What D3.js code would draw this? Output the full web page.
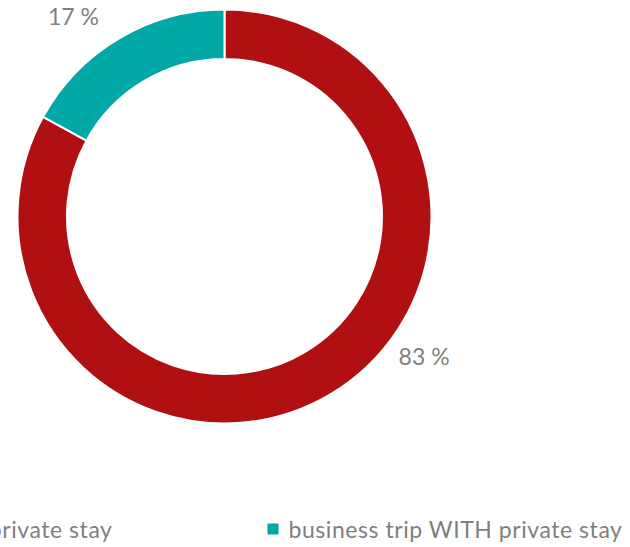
<!DOCTYPE html>
<html>
<head>
<meta charset="utf-8">
<script src="https://cdn.jsdelivr.net/npm/d3@7"></script>
<style>
  html, body { margin: 0; padding: 0; background: #fff; }
  svg { display: block; }
  text { font-family: Lato, "Open Sans", sans-serif; fill: #7f7f7f; }
</style>
</head>
<body>
<svg id="chart" width="630" height="547"></svg>
<script>
// Share of business trips with / without an added private stay
const categories = ["business trip WITHOUT private stay", "business trip WITH private stay"];
const shares = [83, 17];
const valueLabels = ["83 %", "17 %"];
const colors = ["#b11013", "#00a8a7"];

// where each value label sits: fraction along its slice, distance from centre
const labelFrac = [0.418, 0.395];
const labelRad = [243.4, 250.8];

const svg = d3.select("#chart");
const cx = 224.5, cy = 216.5;
const outerR = 207, innerR = 157.5;

const pie = d3.pie().sort(null).value(d => d)(shares);
const arc = d3.arc().innerRadius(innerR).outerRadius(outerR);

const g = svg.append("g").attr("transform", `translate(${cx},${cy})`);

g.selectAll("path.slice")
  .data(pie)
  .join("path")
  .attr("class", "slice")
  .attr("d", arc)
  .attr("fill", (d, i) => colors[i])
  .attr("stroke", "#fff")
  .attr("stroke-width", 2);

const labelAngle = (d, i) => d.startAngle + labelFrac[i] * (d.endAngle - d.startAngle);
g.selectAll("text.val")
  .data(pie)
  .join("text")
  .attr("class", "val")
  .attr("x", (d, i) => labelRad[i] * Math.sin(labelAngle(d, i)))
  .attr("y", (d, i) => -labelRad[i] * Math.cos(labelAngle(d, i)))
  .attr("text-anchor", "middle")
  .attr("dominant-baseline", "central")
  .attr("font-size", 23)
  .text((d, i) => valueLabels[i]);

// legend row below the ring; it is wider than the canvas, so the first entry runs off the left edge
const legendY = 529;
const sw = 11, gap = 10, itemGap = 155;
const legend = svg.append("g");
const items = legend.selectAll("g.item")
  .data(categories)
  .join("g")
  .attr("class", "item");
items.append("rect")
  .attr("width", sw).attr("height", sw)
  .attr("y", legendY - sw / 2)
  .attr("fill", (d, i) => colors[i]);
items.append("text")
  .attr("x", sw + gap)
  .attr("y", legendY)
  .attr("dominant-baseline", "central")
  .attr("font-size", 23)
  .attr("letter-spacing", 0.55)
  .text(d => d);

const widths = [];
items.each(function () {
  widths.push(sw + gap + this.querySelector("text").getComputedTextLength());
});
const secondX = 267.5;
const xs = [secondX - itemGap - widths[0], secondX];
items.attr("transform", (d, i) => `translate(${xs[i]},0)`);
</script>
</body>
</html>
